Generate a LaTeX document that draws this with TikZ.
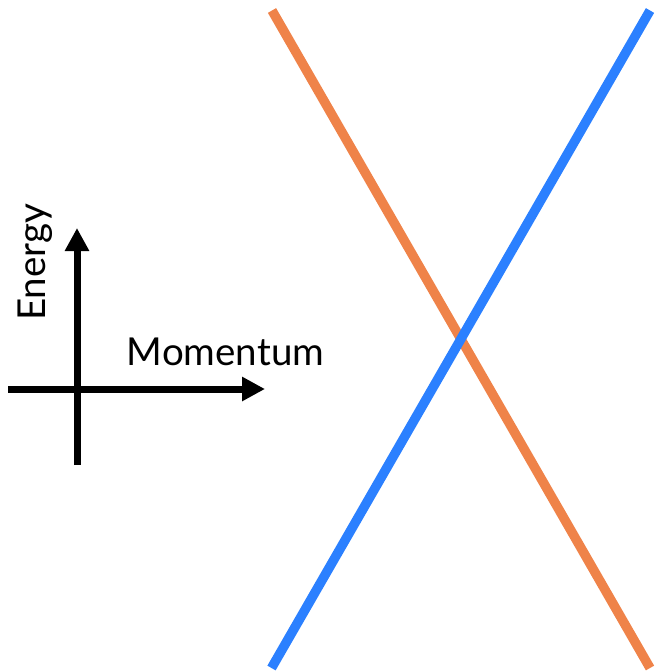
\documentclass[tikz,border=0pt]{standalone}
\usepackage{fontspec}
\setmainfont{Lato}
\usepackage{xcolor}
\definecolor{naranja}{HTML}{EF8349}
\definecolor{azulbanda}{HTML}{2B80FF}
\usetikzlibrary{arrows.meta, positioning}

\begin{document}
\begin{tikzpicture}[
  x=1pt, y=-1pt,
  axisline/.style={
    black, line width=7pt,
    -{Triangle[length=23pt, width=23pt]}
  },
  band/.style={line width=9.5pt},
  lbl/.style={font=\fontsize{38.5}{41}\selectfont, inner sep=0pt}
]
  \useasboundingbox (0,0) rectangle (654,671);
  % axes
  \coordinate (xa) at (8,389);
  \coordinate (xb) at (265,389);
  \coordinate (ya) at (77,465);
  \coordinate (yb) at (77,228);
  \draw[axisline] (xa)--(xb);
  \draw[axisline] (ya)--(yb);
  \node[lbl, anchor=base] (mom) at (225.5,365) {Momentum};
  \node[lbl, anchor=base, rotate=90] (ene) at (45,262.5) {Energy};
  % bands
  \coordinate (otop) at (272,10.5);
  \coordinate (obot) at (650,668);
  \coordinate (btop) at (650,10.5);
  \coordinate (bbot) at (271.5,668);
  \draw[band, naranja] (otop)--(obot);
  \draw[band, azulbanda] (bbot)--(btop);
\end{tikzpicture}
\end{document}
